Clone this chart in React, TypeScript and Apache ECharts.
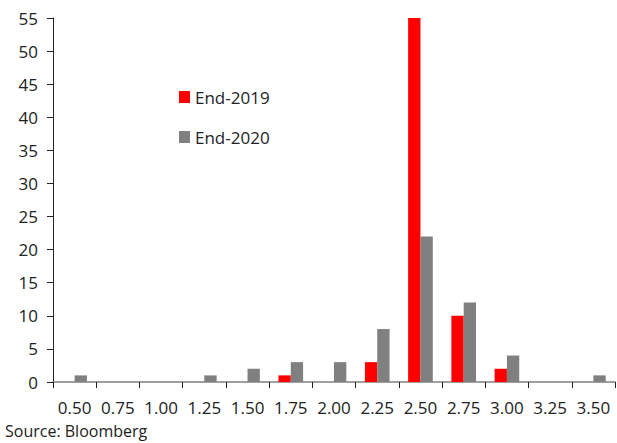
import React, { useEffect, useRef } from "react";
import * as echarts from "echarts";

const categories = ["0.50", "0.75", "1.00", "1.25", "1.50", "1.75", "2.00", "2.25", "2.50", "2.75", "3.00", "3.25", "3.50"];
const end2019 = [0, 0, 0, 0, 0, 1, 0, 3, 55, 10, 2, 0, 0];
const end2020 = [1, 0, 0, 1, 2, 3, 3, 8, 22, 12, 4, 0, 1];
const yTicks = { min: 0, max: 55, interval: 5 };

const FONT = "'Open Sans', 'Noto Sans', sans-serif";

export default function App() {
  const ref = useRef<HTMLDivElement>(null);
  useEffect(() => {
    if (!ref.current) return;
    const chart = echarts.init(ref.current, undefined, { renderer: "svg" });
    chart.setOption({
      animation: false,
      backgroundColor: "#ffffff",
      textStyle: { fontFamily: FONT },
      grid: { left: 53, right: 2, top: 18, bottom: 61, containLabel: false },
      legend: {
        orient: "vertical",
        left: 174,
        top: 82,
        itemWidth: 11,
        itemHeight: 12,
        itemGap: 20,
        icon: "rect",
        textStyle: { fontFamily: FONT, fontSize: 17, color: "#222", lineHeight: 20, padding: [0, 0, 0, 0] },
        data: ["End-2019", "End-2020"],
      },
      xAxis: {
        type: "category",
        data: categories,
        axisLine: { lineStyle: { color: "#808080", width: 1.5 } },
        axisTick: { show: true, length: 6, lineStyle: { color: "#222" } },
        axisLabel: { fontFamily: FONT, fontSize: 17, color: "#222", margin: 17, interval: 0 },
        splitLine: { show: false },
      },
      yAxis: {
        type: "value",
        min: yTicks.min,
        max: yTicks.max,
        interval: yTicks.interval,
        axisLine: { show: true, lineStyle: { color: "#222" } },
        axisTick: { show: true, length: 6, lineStyle: { color: "#222" } },
        axisLabel: { fontFamily: FONT, fontSize: 17, color: "#222", margin: 15 },
        splitLine: { show: false },
      },
      graphic: [
        {
          type: "text",
          left: 5,
          top: 423,
          style: { text: "Source: Bloomberg", fontFamily: FONT, fontSize: 16, fill: "#222" },
        },
      ],
      series: [
        {
          name: "End-2019",
          type: "bar",
          data: end2019,
          itemStyle: { color: "#ff0000" },
          barGap: "0%",
          barCategoryGap: "43%",
        },
        {
          name: "End-2020",
          type: "bar",
          data: end2020,
          itemStyle: { color: "#808080" },
          barGap: "0%",
          barCategoryGap: "43%",
        },
      ],
    });
    return () => chart.dispose();
  }, []);
  return <div ref={ref} style={{ width: 617, height: 443, position: "absolute", left: 0, top: 0 }} />;
}
